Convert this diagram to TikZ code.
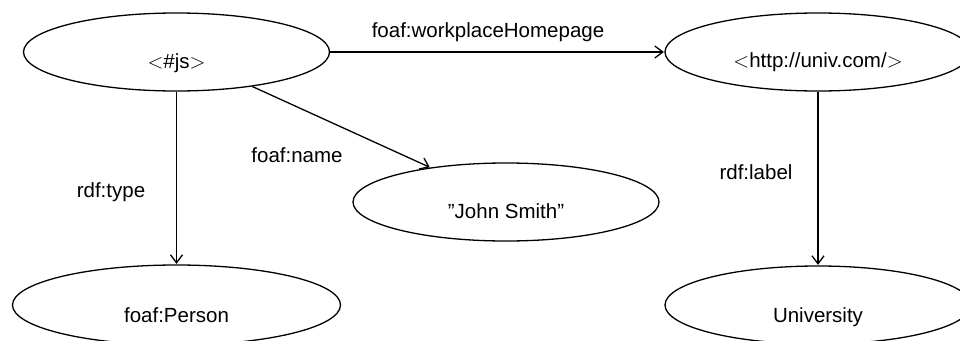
\documentclass[tikz,border=0pt]{standalone}
\usepackage{fontspec}
\setmainfont{Liberation Sans}
\usetikzlibrary{shapes.geometric,arrows.meta}
\tikzset{
  ent/.style={draw, ellipse, line width=1.3pt, inner sep=0pt, minimum width=306pt, minimum height=78pt},
  txt/.style={anchor=base, inner sep=0pt, font=\fontsize{20.5}{24}\selectfont},
  rel/.style={line width=1.3pt, -{Straight Barb[length=8pt,width=12pt,line width=1.3pt]}, shorten >=0.5pt}
}
\begin{document}
\begin{tikzpicture}[x=1pt,y=-1pt]
\useasboundingbox (0,0) rectangle (960,340);
% entity ellipses
\node[ent] (js) at (176.5,52) {};
\node[ent] (univ) at (818,52) {};
\node[ent] (john) at (506,202) {};
\node[ent, minimum width=328pt, minimum height=80pt] (person) at (176.5,305) {};
\node[ent] (uni) at (818,305) {};
% entity texts
\node[txt] (tjs) at (176.5,68) {$<$\#js$>$};
\node[txt] (tuniv) at (818,67) {$<$http://univ.com/$>$};
\node[txt] (tjohn) at (506,218) {"John Smith"};
\node[txt] (tperson) at (176.5,322.5) {foaf:Person};
\node[txt] (tuni) at (818,322) {University};
% relations
\draw[rel] (js.east) -- (univ.west);
\draw[rel] (js.south) -- (person.north);
\draw[rel] (js) -- (john);
\draw[rel] (univ.south) -- (uni.north);
% relation labels
\node[txt] (lwork) at (488,37) {foaf:workplaceHomepage};
\node[txt] (ltype) at (111,197) {rdf:type};
\node[txt] (lname) at (297,162) {foaf:name};
\node[txt] (llabel) at (756,179) {rdf:label};
\end{tikzpicture}
\end{document}
